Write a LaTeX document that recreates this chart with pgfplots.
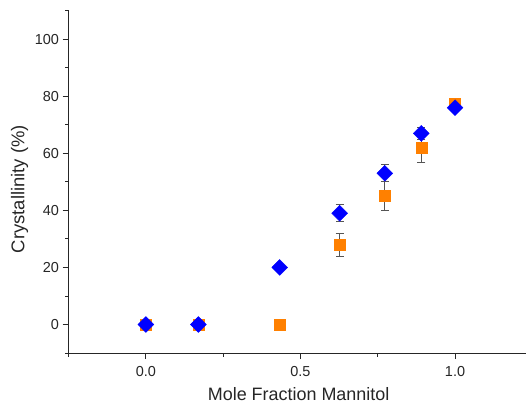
\documentclass[border=0pt]{standalone}
\usepackage{fontspec}
\setmainfont{Liberation Sans}
\usepackage{pgfplots}
\usepackage{pgfplotstable}
\pgfplotsset{compat=1.18}

\definecolor{mkorange}{HTML}{FF8000}
\definecolor{mkblue}{HTML}{0000FF}
\definecolor{axisgray}{HTML}{262626}
\definecolor{errgray}{HTML}{555555}

% x = mole fraction of mannitol, y = crystallinity (%), e = error
\pgfplotstableread{
x      y    e
0.000  0    0
0.170  0    0
0.433  0    0
0.627  28   4
0.773  45   5
0.891  62   5
1.000  77.4 1
}\orangedata

\pgfplotstableread{
x      y    e
0.000  0    0
0.170  0    0
0.433  20   0
0.627  39   3
0.773  53   3
0.891  67   2
1.000  76   1
}\bluedata

\begin{document}
\begin{tikzpicture}
\begin{axis}[
  scale only axis,
  width=456.5bp, height=342bp,
  xmin=-0.25, xmax=1.228,
  ymin=-10, ymax=110,
  axis lines*=left,
  axis line style={line width=0.9pt, axisgray},
  every tick/.style={line width=0.9pt, axisgray},
  tick align=outside,
  major tick length=6bp, minor tick length=3.5bp,
  xtick={0,0.5,1}, minor xtick={-0.25,0.25,0.75},
  ytick={0,20,...,100}, minor ytick={-10,10,...,110},
  /pgf/number format/assume math mode=true,
  x tick label style={/pgf/number format/.cd, fixed, fixed zerofill, precision=1, /tikz/.cd, yshift=-4bp},
  tick label style={font=\fontsize{14.5}{17}\selectfont, text=axisgray},
  every axis x label/.style={at={(axis description cs:0.5035,0)}, yshift=-47.5bp, anchor=base,
    font=\fontsize{18}{21}\selectfont, text=axisgray},
  every axis y label/.style={at={(axis description cs:-0.107,0.479)}, rotate=90, anchor=center,
    font=\fontsize{18.5}{21}\selectfont, text=axisgray},
  xlabel={Mole Fraction Mannitol},
  ylabel={Crystallinity (\%)},
  clip=false,
]
% markers
\addplot[only marks, mark=square*, mark size=5.5bp, color=mkorange] table[x=x, y=y] {\orangedata};
\addplot[only marks, mark=square*, mark size=5.6bp, color=mkblue, mark options={rotate=45}] table[x=x, y=y] {\bluedata};
% error bars on top
\addplot[draw=none, mark=none, error bars/.cd, y dir=both, y explicit,
  error mark=-, error mark options={mark size=4bp, line width=0.8pt, errgray, rotate=90},
  error bar style={line width=0.8pt, errgray}]
  table[x=x, y=y, y error=e] {\orangedata};
\addplot[draw=none, mark=none, error bars/.cd, y dir=both, y explicit,
  error mark=-, error mark options={mark size=4bp, line width=0.8pt, errgray, rotate=90},
  error bar style={line width=0.8pt, errgray}]
  table[x=x, y=y, y error=e] {\bluedata};
\end{axis}
\pgfresetboundingbox
\path ([shift={(-68.5bp,-51.3bp)}]current axis.south west) rectangle ([shift={(0.5bp,10.7bp)}]current axis.north east);
\end{tikzpicture}
\end{document}
